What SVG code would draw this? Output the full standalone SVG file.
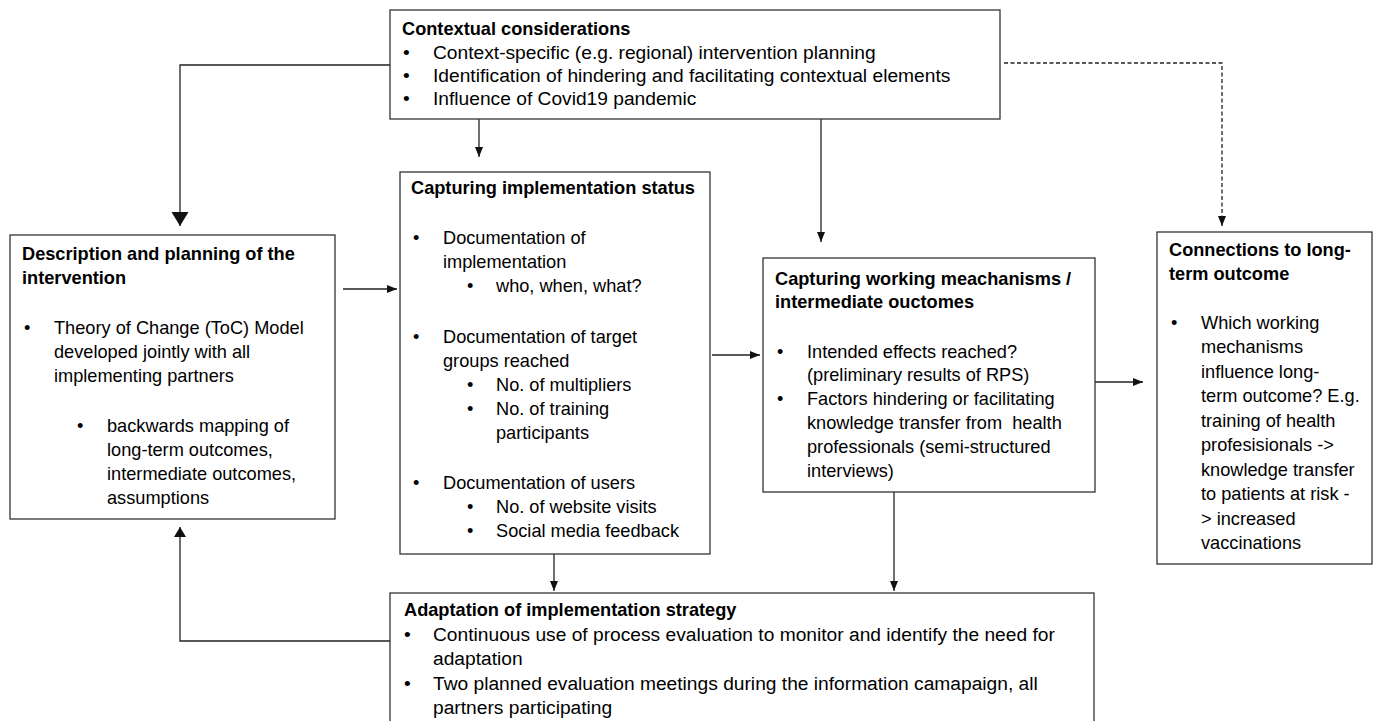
<svg xmlns="http://www.w3.org/2000/svg" width="1378" height="721" viewBox="0 0 1378 721">
<style>
.box{fill:#fff;stroke:#333;stroke-width:1.3}
text{font-family:"Liberation Sans",Arial,sans-serif;font-size:18.2px;fill:#000}
.t{font-weight:bold}
.l{font-size:19.2px}
.c{fill:none;stroke:#222;stroke-width:1.3}
.d{stroke-dasharray:4 2.5}
</style>
<defs>
<marker id="s" markerUnits="userSpaceOnUse" markerWidth="10" markerHeight="8" refX="10" refY="4" orient="auto"><path d="M0,0 L10,4 L0,8 z" fill="#111"/></marker>
<marker id="b" markerUnits="userSpaceOnUse" markerWidth="15" markerHeight="18" refX="14" refY="8.5" orient="auto"><path d="M0,0 L14,8.5 L0,17 z" fill="#111"/></marker>
<marker id="m" markerUnits="userSpaceOnUse" markerWidth="11" markerHeight="13" refX="10" refY="6" orient="auto"><path d="M0,0 L10,6 L0,12 z" fill="#111"/></marker>
</defs>
<rect width="1378" height="721" fill="#fff"/>
<g id="connectors">
<path class="c" d="M390,65 H180 V226" marker-end="url(#b)"/>
<path class="c" d="M479,119 V157" marker-end="url(#s)"/>
<path class="c" d="M821,119 V242" marker-end="url(#s)"/>
<path class="c d" d="M1004,63 H1222 V226" marker-end="url(#s)"/>
<path class="c" d="M343,289 H397" marker-end="url(#s)"/>
<path class="c" d="M712,355 H760" marker-end="url(#s)"/>
<path class="c" d="M1095,382 H1143" marker-end="url(#s)"/>
<path class="c" d="M554,554 V591" marker-end="url(#s)"/>
<path class="c" d="M894,492 V591" marker-end="url(#s)"/>
<path class="c" d="M390,641 H180 V527" marker-end="url(#m)"/>
</g>
<g id="context">
<rect class="box" x="390" y="10" width="610" height="109"/>
<text class="t" x="402" y="35">Contextual considerations</text>
<text class="l" x="403" y="59">•</text><text class="l" x="433" y="59">Context-specific (e.g. regional) intervention planning</text>
<text class="l" x="403" y="82">•</text><text class="l" x="433" y="82">Identification of hindering and facilitating contextual elements</text>
<text class="l" x="403" y="105">•</text><text class="l" x="433" y="105">Influence of Covid19 pandemic</text>
</g>
<g id="description">
<rect class="box" x="10" y="235" width="325" height="284"/>
<text class="t" x="22" y="260">Description and planning of the</text>
<text class="t" x="22" y="284">intervention</text>
<text x="24" y="334">•</text><text x="54" y="334">Theory of Change (ToC) Model</text>
<text x="54" y="358">developed jointly with all</text>
<text x="54" y="382">implementing partners</text>
<text x="77" y="432">•</text><text x="107" y="432">backwards mapping of</text>
<text x="107" y="456">long-term outcomes,</text>
<text x="107" y="480">intermediate outcomes,</text>
<text x="107" y="504">assumptions</text>
</g>
<g id="status">
<rect class="box" x="400" y="172" width="310" height="382"/>
<text class="t" x="411" y="194">Capturing implementation status</text>
<text x="413" y="244">•</text><text x="443" y="244">Documentation of</text>
<text x="443" y="268">implementation</text>
<text x="467" y="292">•</text><text x="496" y="292">who, when, what?</text>
<text x="413" y="343">•</text><text x="443" y="343">Documentation of target</text>
<text x="443" y="367">groups reached</text>
<text x="467" y="391">•</text><text x="496" y="391">No. of multipliers</text>
<text x="467" y="415">•</text><text x="496" y="415">No. of training</text>
<text x="496" y="439">participants</text>
<text x="413" y="489">•</text><text x="443" y="489">Documentation of users</text>
<text x="467" y="513">•</text><text x="496" y="513">No. of website visits</text>
<text x="467" y="537">•</text><text x="496" y="537">Social media feedback</text>
</g>
<g id="mechanisms">
<rect class="box" x="763" y="258" width="332" height="234"/>
<text class="t" x="775" y="285">Capturing working meachanisms /</text>
<text class="t" x="775" y="308">intermediate ouctomes</text>
<text x="777" y="358">•</text><text x="807" y="358">Intended effects reached?</text>
<text x="807" y="381">(preliminary results of RPS)</text>
<text x="777" y="405">•</text><text x="807" y="405">Factors hindering or facilitating</text>
<text x="807" y="429" xml:space="preserve">knowledge transfer from  health</text>
<text x="807" y="453">professionals (semi-structured</text>
<text x="807" y="477">interviews)</text>
</g>
<g id="longterm">
<rect class="box" x="1157" y="232" width="215" height="332"/>
<text class="t" x="1169" y="256">Connections to long-</text>
<text class="t" x="1169" y="280">term outcome</text>
<text x="1171" y="329">•</text><text x="1201" y="329">Which working</text>
<text x="1201" y="353">mechanisms</text>
<text x="1201" y="378">influence long-</text>
<text x="1201" y="402">term outcome? E.g.</text>
<text x="1201" y="427">training of health</text>
<text x="1201" y="451">profesisionals -&gt;</text>
<text x="1201" y="476">knowledge transfer</text>
<text x="1201" y="500">to patients at risk -</text>
<text x="1201" y="525">&gt; increased</text>
<text x="1201" y="549">vaccinations</text>
</g>
<g id="adaptation">
<rect class="box" x="390" y="593" width="704" height="140"/>
<text class="t" x="404" y="616">Adaptation of implementation strategy</text>
<text class="l" x="404" y="641">•</text><text class="l" x="433" y="641">Continuous use of process evaluation to monitor and identify the need for</text>
<text class="l" x="433" y="665">adaptation</text>
<text class="l" x="404" y="690">•</text><text class="l" x="433" y="690">Two planned evaluation meetings during the information camapaign, all</text>
<text class="l" x="433" y="714">partners participating</text>
</g>
</svg>
